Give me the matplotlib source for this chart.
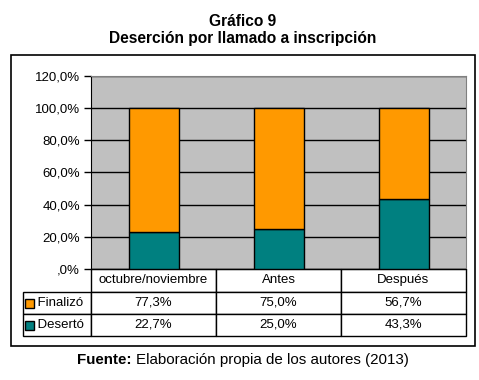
import matplotlib
matplotlib.use("Agg")
import matplotlib.pyplot as plt
from matplotlib.patches import Rectangle
from matplotlib.table import Table

plt.rcParams['font.family'] = ['Liberation Sans', 'DejaVu Sans']

categories = ['octubre/noviembre', 'Antes', 'Después']
finalizo = [77.3, 75.0, 56.7]
deserto = [22.7, 25.0, 43.3]
series_names = ['Finalizó', 'Desertó']
series_colors = ['#FF9900', '#008080']
y_ticks = [0, 20, 40, 60, 80, 100, 120]
y_tick_labels = [',0%', '20,0%', '40,0%', '60,0%', '80,0%', '100,0%', '120,0%']

W, H = 479, 380
fig = plt.figure(figsize=(W / 100, H / 100), dpi=100)


def px(x0, y0, x1, y1):
    # pixel box (top-left origin) -> figure fraction [l, b, w, h]
    return [x0 / W, 1 - y1 / H, (x1 - x0) / W, (y1 - y0) / H]


ax = fig.add_axes(px(91, 75.7, 466, 269))
ax.set_facecolor('#C0C0C0')

xs = range(len(categories))
ax.bar(xs, deserto, width=0.4, color=series_colors[1], edgecolor='black', linewidth=1, zorder=3)
ax.bar(xs, finalizo, width=0.4, bottom=deserto, color=series_colors[0], edgecolor='black', linewidth=1, zorder=3)

ax.set_xlim(-0.5, len(categories) - 0.5)
ax.set_ylim(0, 120)
ax.set_yticks(y_ticks)
ax.set_yticklabels(y_tick_labels, fontsize=9.5)
ax.set_xticks([])
ax.yaxis.grid(True, color='black', linewidth=1, zorder=1)
ax.set_axisbelow(True)
ax.tick_params(axis='y', length=5, width=1, color='black', pad=3)
ax.spines['left'].set_color('black')
ax.spines['bottom'].set_color('black')
for s in ('top', 'right'):
    ax.spines[s].set_color('#808080')

# data table under the plot
ax_h = 269 - 75.7
ax_w = 466 - 91
x0 = (22.6 - 91) / ax_w
y0 = (269 - 336) / ax_h
tbl = Table(ax, bbox=[x0, y0, 1 - x0, -y0])
label_w = 91 - 22.6
col_w = ax_w / 3
row_h = [22.5, 22, 22]

c = tbl.add_cell(0, 0, width=label_w, height=row_h[0], text='')
c.visible_edges = ''
for j, cat in enumerate(categories):
    c = tbl.add_cell(0, j + 1, width=col_w, height=row_h[0], text=cat, loc='center')
    c.get_text().set_fontsize(9.5)
for i, (name, vals) in enumerate(zip(series_names, [finalizo, deserto])):
    c = tbl.add_cell(i + 1, 0, width=label_w, height=row_h[i + 1], text='    ' + name, loc='left')
    c.get_text().set_fontsize(9.5)
    c.PAD = 0.0
    for j, v in enumerate(vals):
        c = tbl.add_cell(i + 1, j + 1, width=col_w, height=row_h[i + 1],
                         text=f'{v:.1f}%'.replace('.', ','), loc='center')
        c.get_text().set_fontsize(9.5)
for cell in tbl.get_celld().values():
    cell.set_linewidth(1)
tbl.auto_set_font_size(False)
ax.add_table(tbl)

# legend keys in the table
for i, col in enumerate(series_colors):
    yc = 303 + i * 22
    fig.patches.append(Rectangle((25 / W, 1 - (yc + 4.5) / H), 9 / W, 9 / H,
                                 transform=fig.transFigure, facecolor=col,
                                 edgecolor='black', linewidth=1))

# outer frame
fig.patches.append(Rectangle((11 / W, 1 - 345.5 / H), 464 / W, 290.5 / H,
                             transform=fig.transFigure, fill=False,
                             edgecolor='black', linewidth=1.2))

fig.text(243 / W, 1 - 21 / H, 'Gráfico 9', ha='center', va='center',
         fontsize=11.2, fontweight='bold')
fig.text(243 / W, 1 - 38 / H, 'Deserción por llamado a inscripción', ha='center',
         va='center', fontsize=11.2, fontweight='bold')

t1 = fig.text(77 / W, 1 - 360 / H, 'Fuente:', ha='left', va='center',
              fontsize=10.9, fontweight='bold')
fig.canvas.draw()
bb = t1.get_window_extent()
fig.text((bb.x1 + 4) / W, 1 - 360 / H, 'Elaboración propia de los autores (2013)',
         ha='left', va='center', fontsize=10.9)

fig.savefig('out.png', dpi=100)
